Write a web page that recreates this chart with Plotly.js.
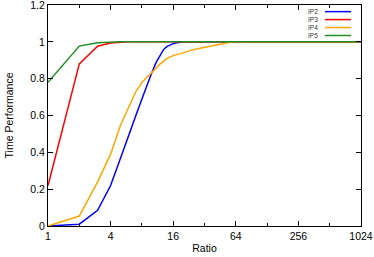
<!DOCTYPE html>
<html>
<head>
<meta charset="utf-8">
<script src="https://cdn.plot.ly/plotly-3.0.1.min.js"></script>
<style>html,body{margin:0;padding:0;background:#fff;}#chart{width:374px;height:257px;}</style>
</head>
<body>
<div id="chart"></div>
<script>
// Series names
const seriesNames = ["IP2", "IP3", "IP4", "IP5"];
const seriesColors = ["#0000ff", "#ff0000", "#ffa500", "#228b22"];

// IP2
const ip2X = [1, 2, 3, 4, 5, 6, 7, 8, 9, 10, 11, 12, 13, 14, 15, 16, 18, 20, 1024];
const ip2Y = [0, 0.01, 0.085, 0.22, 0.37, 0.50, 0.60, 0.69, 0.77, 0.835, 0.89, 0.93, 0.96, 0.975, 0.985, 0.99, 0.997, 1.0, 1.0];
// IP3
const ip3X = [1, 2, 3, 4, 5, 6, 1024];
const ip3Y = [0.22, 0.88, 0.976, 0.994, 0.998, 1.0, 1.0];
// IP4
const ip4X = [1, 2, 3, 4, 5, 6, 7, 8, 9, 10, 11, 12, 14, 16, 20, 24, 29, 36, 45, 52, 60, 1024];
const ip4Y = [0, 0.054, 0.24, 0.39, 0.55, 0.65, 0.73, 0.78, 0.81, 0.835, 0.86, 0.88, 0.91, 0.925, 0.94, 0.955, 0.965, 0.975, 0.986, 0.993, 1.0, 1.0];
// IP5
const ip5X = [1, 2, 3, 4, 5, 1024];
const ip5Y = [0.78, 0.977, 0.995, 0.998, 1.0, 1.0];

// Axis ticks
const xMajorTicks = [1, 4, 16, 64, 256, 1024];
const xMajorLabels = ["1", "4", "16", "64", "256", "1024"];
const xMinorTicks = [2, 8, 32, 128, 512];
const yTicks = [0, 0.2, 0.4, 0.6, 0.8, 1, 1.2];
const yLabels = ["0", "0.2", "0.4", "0.6", "0.8", "1", "1.2"];

const xs = [ip2X, ip3X, ip4X, ip5X];
const ys = [ip2Y, ip3Y, ip4Y, ip5Y];

const traces = seriesNames.map((n, i) => ({
  type: "scatter", mode: "lines", name: n,
  x: xs[i], y: ys[i],
  line: {color: seriesColors[i], width: 1.5},
  showlegend: false
}));

// Legend drawn as text on the left, line sample on the right (gnuplot style)
const legTextX = 0.869, legLineX0 = 0.885, legLineX1 = 0.968;
const legY0 = 0.970, legDy = 0.036;
const annotations = [];
const shapes = [];
seriesNames.forEach((n, i) => {
  const yy = legY0 - i * legDy;
  annotations.push({xref: "paper", yref: "paper", x: legTextX, y: yy, xanchor: "right", yanchor: "middle",
    text: n, showarrow: false, font: {family: "Liberation Sans, Arial, sans-serif", size: 6.5, color: "#333"}});
  shapes.push({type: "line", xref: "paper", yref: "paper", x0: legLineX0, x1: legLineX1, y0: yy, y1: yy,
    line: {color: seriesColors[i], width: 1.5}});
});

const font = {family: "Liberation Sans, Arial, sans-serif", size: 10.5, color: "#000"};

const layout = {
  width: 374, height: 257,
  margin: {l: 48, r: 13, t: 5, b: 31, pad: 0},
  paper_bgcolor: "#fff", plot_bgcolor: "#fff",
  font: font,
  showlegend: false,
  xaxis: {
    type: "log", range: [0, Math.log10(1024)],
    tickvals: xMajorTicks, ticktext: xMajorLabels,
    ticks: "inside", ticklen: 5, tickwidth: 1, tickcolor: "#000",
    minor: {tickvals: xMinorTicks, ticks: "inside", ticklen: 3, tickwidth: 1, tickcolor: "#000", showgrid: false},
    showline: true, linecolor: "#000", linewidth: 1, mirror: "ticks",
    showgrid: false, zeroline: false,
    ticklabeloverflow: "allow",
    tickfont: font,
    title: {text: "Ratio", font: font, standoff: 4}
  },
  yaxis: {
    range: [0, 1.2],
    tickvals: yTicks, ticktext: yLabels,
    ticks: "inside", ticklen: 5, tickwidth: 1, tickcolor: "#000",
    showline: true, linecolor: "#000", linewidth: 1, mirror: "ticks",
    showgrid: false, zeroline: false,
    ticklabeloverflow: "allow",
    tickfont: font,
    title: {text: "Time Performance", font: font, standoff: 14}
  },
  annotations: annotations,
  shapes: shapes
};

Plotly.newPlot("chart", traces, layout, {displayModeBar: false, staticPlot: true});
</script>
</body>
</html>
